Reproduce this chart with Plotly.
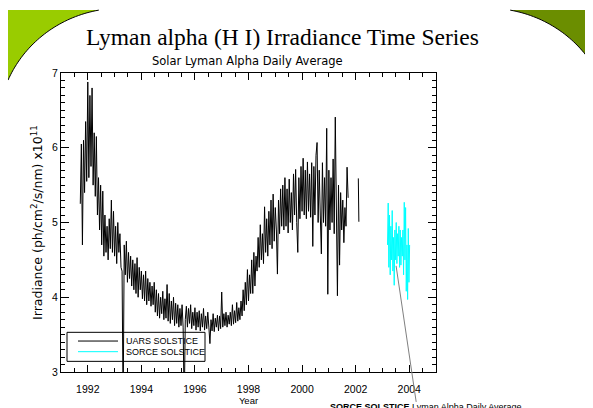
import math
import plotly.graph_objects as go

# ---------------- data ----------------
uars_start = 1991.72   # first UARS sample (year)
uars_step = 0.04       # sample spacing (years)
uars_values = [
    5.25, 6.05, 4.70, 6.10, 5.40, 6.35, 5.55, 6.88, 5.60, 6.70,
    5.75, 6.80, 5.50, 6.20, 5.35, 6.15, 5.10, 5.60, 4.90, 5.50,
    4.70, 5.42, 4.55, 5.10, 4.60, 4.95, 4.50, 5.05, 4.65, 5.30,
    4.60, 5.15, 4.55, 4.95, 4.45, 5.00, 4.60, 4.85, 4.40, 4.35,
    2.50, 4.70, 4.30, 4.75, 4.20, 4.60, 4.25, 4.55, 4.15, 4.50,
    4.10, 4.45, 4.05, 4.53, 4.00, 4.40, 4.10, 4.35, 3.98, 4.30,
    3.95, 4.35, 3.90, 4.25, 3.95, 4.20, 3.88, 4.15, 3.90, 4.20,
    3.80, 4.10, 3.75, 4.05, 3.72, 4.00, 3.78, 4.08, 3.70, 3.98,
    3.72, 4.17, 3.68, 4.05, 3.65, 3.95, 3.70, 4.00, 3.62, 3.92,
    3.65, 3.90, 3.60, 3.85, 3.62, 3.90, 3.60, 2.50, 3.70, 3.88,
    3.60, 3.85, 3.65, 3.90, 3.58, 3.80, 3.62, 3.86, 3.56, 3.80,
    3.60, 3.82, 3.55, 3.78, 3.60, 3.85, 3.56, 3.75, 3.58, 3.80,
    3.60, 3.38, 3.70, 3.55, 3.78, 3.54, 3.72, 3.60, 3.76, 3.55,
    3.75, 3.58, 4.07, 3.60, 3.78, 3.62, 3.80, 3.60, 3.76, 3.64,
    3.80, 3.62, 3.90, 3.64, 3.82, 3.66, 3.93, 3.68, 3.86, 3.70,
    3.95, 3.75, 4.10, 3.82, 4.20, 3.90, 4.37, 3.95, 4.30, 4.05,
    4.50, 4.05, 4.60, 4.15, 4.55, 4.35, 4.80, 4.40, 4.97, 4.50,
    4.85, 4.45, 5.21, 4.60, 5.05, 4.55, 5.15, 4.70, 5.30, 4.65,
    5.38, 4.75, 5.20, 4.90, 4.31, 5.30, 4.85, 5.45, 4.95, 5.50,
    4.90, 5.60, 4.95, 5.45, 4.86, 5.58, 5.00, 5.40, 4.90, 5.65,
    5.10, 5.71, 5.00, 4.60, 5.60, 5.05, 5.75, 5.15, 5.86, 5.10,
    5.70, 5.05, 5.81, 5.15, 5.65, 5.07, 5.80, 4.68, 5.75, 5.10,
    5.90, 6.07, 5.00, 5.70, 5.10, 4.58, 5.80, 5.00, 5.60, 4.95,
    6.26, 4.04, 5.70, 4.90, 5.60, 5.00, 5.85, 4.85, 6.41, 5.10,
    4.02, 5.50, 4.43, 5.40, 4.90, 5.30, 4.73, 5.20, 4.95, 5.74, 5.33,
]
uars_late_years = [2002.10, 2002.12]
uars_late_values = [5.59, 5.01]

sorce_start = 2003.19
sorce_step = 0.025
sorce_values = [
    4.70, 5.26, 4.40, 5.10, 4.30, 4.95, 4.50, 5.16, 4.35, 4.80,
    4.16, 4.90, 4.50, 5.00, 4.45, 4.85, 4.55, 4.95, 4.40, 4.90,
    4.43, 4.80, 4.55, 4.90, 4.30, 5.27, 4.50, 5.20, 4.08, 4.70,
    3.97, 4.92, 4.20, 4.70,
]

series_names = ["UARS SOLSTICE", "SORCE SOLSTICE"]
series_colors = ["black", "#00ffff"]
pointer_years = [2003.51, 2004.26]
pointer_values = [4.42, 2.60]

x_range = [1991, 2005]
y_range = [3, 7]

# ---------------- figure ----------------
W, H = 593, 408
L, R, T, B = 53, 428, 65, 374


def px(xp):
    return (xp - L) / (R - L)


def py(yp):
    return (B - yp) / (B - T)


def vpaper(v):
    return (v - y_range[0]) / (y_range[1] - y_range[0])


uars_x = [round(uars_start + i * uars_step, 4) for i in range(len(uars_values))]
sorce_x = [round(sorce_start + i * sorce_step, 4) for i in range(len(sorce_values))]

fig = go.Figure()
fig.add_trace(go.Scatter(
    x=uars_x + [None] + uars_late_years,
    y=uars_values + [None] + uars_late_values,
    mode="lines", name=series_names[0],
    line=dict(color=series_colors[0], width=1), connectgaps=False,
))
fig.add_trace(go.Scatter(
    x=sorce_x, y=sorce_values, mode="lines", name=series_names[1],
    line=dict(color=series_colors[1], width=1),
))

axis_common = dict(
    showline=True, linecolor="black", linewidth=1, mirror="ticks",
    ticks="inside", tickcolor="black", tickwidth=1,
    showgrid=False, zeroline=False,
    tickfont=dict(family="Liberation Sans", size=10.5, color="black"),
)
fig.update_xaxes(
    range=x_range, tickmode="linear", tick0=1992, dtick=2, ticklen=7,
    minor=dict(dtick=0.5, ticks="inside", ticklen=4, tickcolor="black", showgrid=False),
    ticklabelstandoff=7,
    title=dict(text="Year", font=dict(family="Liberation Sans", size=9.5), standoff=3),
    **axis_common,
)
fig.update_yaxes(
    range=y_range, tickmode="linear", tick0=3, dtick=1, ticklen=8,
    minor=dict(dtick=0.1, ticks="inside", ticklen=4, tickcolor="black", showgrid=False),
    title=dict(text="Irradiance (ph/cm<sup>2</sup>/s/nm) x10<sup>11</sup>",
               font=dict(family="DejaVu Sans", size=12.5), standoff=6),
    **axis_common,
)

shapes = []


def corner(cx, cy, r, t0, t1, n=40):
    pts = []
    for k in range(n + 1):
        t = math.radians(t0 + (t1 - t0) * k / n)
        pts.append((cx + r * math.cos(t), cy + r * math.sin(t)))
    return pts


# decorative slide corners
for (cx, corner_pt, t0, t1, color) in [
    (113, (0, 0), 259.6, 203.3, "#99cc00"),
    (480, (W, 0), -79.6, -23.3, "#6b8e00"),
]:
    arc = corner(cx, 121, 123, t0, t1)
    fill = "M {:.4f},{:.4f} ".format(px(corner_pt[0]), py(corner_pt[1]))
    fill += " ".join("L {:.4f},{:.4f}".format(px(a), py(b)) for a, b in arc) + " Z"
    shapes.append(dict(type="path", xref="paper", yref="paper", path=fill,
                       fillcolor=color, line=dict(width=0), layer="below"))
    edge = "M " + " L ".join("{:.4f},{:.4f}".format(px(a), py(b)) for a, b in arc)
    shapes.append(dict(type="path", xref="paper", yref="paper", path=edge,
                       line=dict(color="black", width=1)))

# legend box and samples
shapes.append(dict(type="rect", xref="paper", yref="paper",
                   x0=px(59), x1=px(197), y0=py(363), y1=py(333),
                   line=dict(color="black", width=1)))
for i, yy in enumerate([342, 353]):
    shapes.append(dict(type="line", xref="paper", yref="paper",
                       x0=px(70), x1=px(110), y0=py(yy), y1=py(yy),
                       line=dict(color=series_colors[i], width=1)))

# pointer line toward the SORCE data
shapes.append(dict(type="line", xref="x", yref="paper",
                   x0=pointer_years[0], x1=pointer_years[1],
                   y0=vpaper(pointer_values[0]), y1=vpaper(pointer_values[1]),
                   line=dict(color="#808080", width=1)))

annotations = [
    dict(text="Lyman alpha (H I) Irradiance Time Series", xref="paper", yref="paper",
         x=px(274), y=py(28), xanchor="center", yanchor="middle", showarrow=False,
         font=dict(family="Liberation Serif", size=23.5, color="black")),
    dict(text="Solar Lyman Alpha Daily Average", xref="paper", yref="paper",
         x=px(239), y=py(53), xanchor="center", yanchor="middle", showarrow=False,
         font=dict(family="DejaVu Sans", size=11.5, color="black")),
    dict(text="<b>SORCE SOLSTICE</b> Lyman Alpha Daily Average", xref="paper", yref="paper",
         x=px(320), y=py(403), xanchor="left", yanchor="top", showarrow=False,
         font=dict(family="Liberation Sans", size=9, color="black")),
]
for i, yy in enumerate([342, 353]):
    annotations.append(dict(text=series_names[i], xref="paper", yref="paper",
                            x=px(116), y=py(yy), xanchor="left", yanchor="middle",
                            showarrow=False,
                            font=dict(family="Liberation Sans", size=9, color="black")))

fig.update_layout(
    width=W, height=H, margin=dict(l=L, r=W - R, t=T, b=H - B, pad=0),
    paper_bgcolor="white", plot_bgcolor="white", showlegend=False,
    font=dict(family="Liberation Sans", color="black"),
    shapes=shapes, annotations=annotations,
)

fig.write_html("out.html")
